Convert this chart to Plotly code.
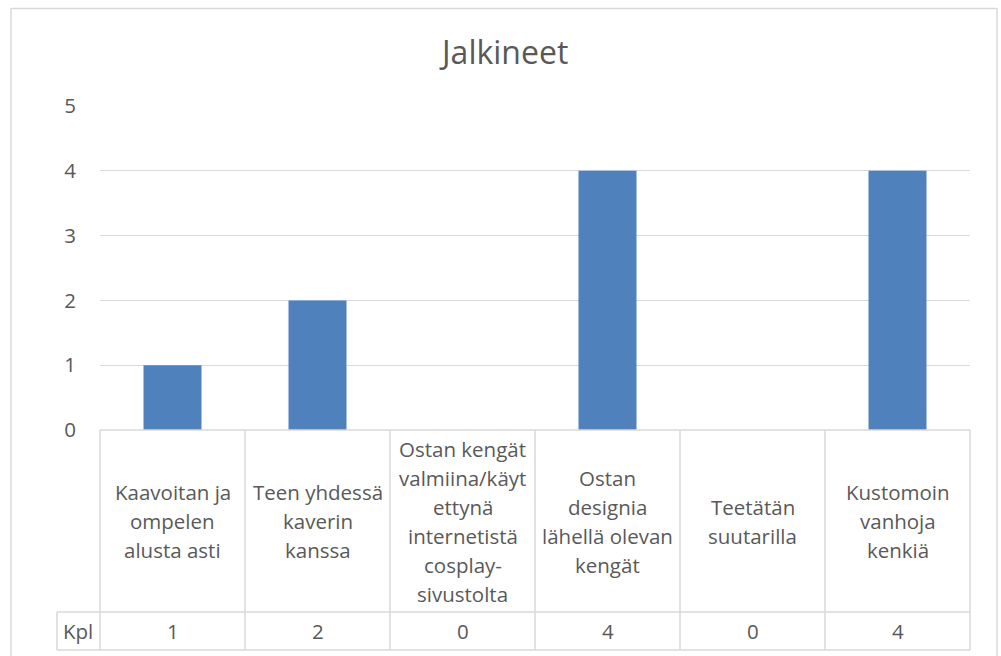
import plotly.graph_objects as go

title = "Jalkineet"
series_name = "Kpl"
category_lines = [
    ["Kaavoitan ja", "ompelen", "alusta asti"],
    ["Teen yhdessä", "kaverin", "kanssa"],
    ["Ostan kengät", "valmiina/käyt", "ettynä", "internetistä", "cosplay-", "sivustolta"],
    ["Ostan", "designia", "lähellä olevan", "kengät"],
    ["Teetätän", "suutarilla"],
    ["Kustomoin", "vanhoja", "kenkiä"],
]
categories = [" ".join(l) for l in category_lines]
values = [1, 2, 0, 4, 0, 4]
y_ticks = [0, 1, 2, 3, 4, 5]

W, H = 1001, 656
L, R, T, B = 100, 31, 106, 226
PW = W - L - R
PH = H - T - B
FONT = "Open Sans"
FS = 20.5
TXT = "#595959"
GRID = "#d9d9d9"


def py(p):
    # pixel y -> paper y
    return (H - B - p) / PH


def px(p):
    # pixel x -> paper x
    return (p - L) / PW


fig = go.Figure(go.Bar(
    x=list(range(len(categories))), y=values, name=series_name,
    marker=dict(color="#4f81bd", line=dict(width=0)),
    hovertext=categories,
))

n = len(categories)


def cx(v):
    # category coordinate -> pixel x, following the axis range [-0.5, n-0.5]
    return L + (v + 0.5) / n * PW


shapes = []
# outer chart border
shapes.append(dict(type="rect", xref="paper", yref="paper",
                   x0=px(11), x1=px(997), y0=py(670), y1=py(8.5),
                   line=dict(color=GRID, width=1.5), layer="below"))
y_top, y_mid, y_bot = py(430), py(612), py(650)
kx = px(57)
for yy in (y_mid, y_bot):
    shapes.append(dict(type="line", xref="paper", yref="paper", x0=kx, x1=1,
                       y0=yy, y1=yy, line=dict(color=GRID, width=1.5)))
shapes.append(dict(type="line", xref="paper", yref="paper", x0=0, x1=1,
                   y0=y_top, y1=y_top, line=dict(color=GRID, width=1.5)))
for i in range(n + 1):
    shapes.append(dict(type="line", xref="paper", yref="paper", x0=px(cx(i - 0.5)), x1=px(cx(i - 0.5)),
                       y0=y_top, y1=y_bot, line=dict(color=GRID, width=1.5)))
shapes.append(dict(type="line", xref="paper", yref="paper", x0=kx, x1=kx, y0=y_mid, y1=y_bot,
                   line=dict(color=GRID, width=1.5)))

annotations = []
center, spacing = 521, 29
for i, lines in enumerate(category_lines):
    k = len(lines)
    for j, line in enumerate(lines):
        yp = center + (j - (k - 1) / 2) * spacing
        annotations.append(dict(x=i, y=py(yp), xref="x", yref="paper", text=line,
                                showarrow=False, xanchor="center", yanchor="middle",
                                font=dict(family=FONT, size=FS, color=TXT)))
    annotations.append(dict(x=i, y=py(631), xref="x", yref="paper", text=str(values[i]),
                            showarrow=False, xanchor="center", yanchor="middle",
                            font=dict(family=FONT, size=FS, color=TXT)))
annotations.append(dict(x=px(78), y=py(631), xref="paper", yref="paper", text=series_name,
                        showarrow=False, xanchor="center", yanchor="middle",
                        font=dict(family=FONT, size=FS, color=TXT)))
annotations.append(dict(x=px(503), y=py(52), xref="paper", yref="paper", text=title,
                        showarrow=False, xanchor="center", yanchor="middle",
                        font=dict(family=FONT, size=32, color=TXT)))

fig.update_layout(
    width=W, height=H,
    margin=dict(l=L, r=R, t=T, b=B),
    paper_bgcolor="white", plot_bgcolor="white",
    showlegend=False,
    bargap=0.6,
    shapes=shapes,
    annotations=annotations,
    xaxis=dict(range=[-0.5, n - 0.5], showticklabels=False, showgrid=False,
               zeroline=False, showline=False, ticks=""),
    yaxis=dict(range=[0, 5], tickvals=y_ticks, showgrid=True, gridcolor=GRID, gridwidth=1.2,
               zeroline=False, showline=False, ticks="",
               tickfont=dict(family=FONT, size=FS, color=TXT), ticklabelstandoff=23),
)

fig.write_html("out.html", config={"displayModeBar": False},
               post_script="document.body.style.margin='0';document.body.style.overflow='hidden';")
